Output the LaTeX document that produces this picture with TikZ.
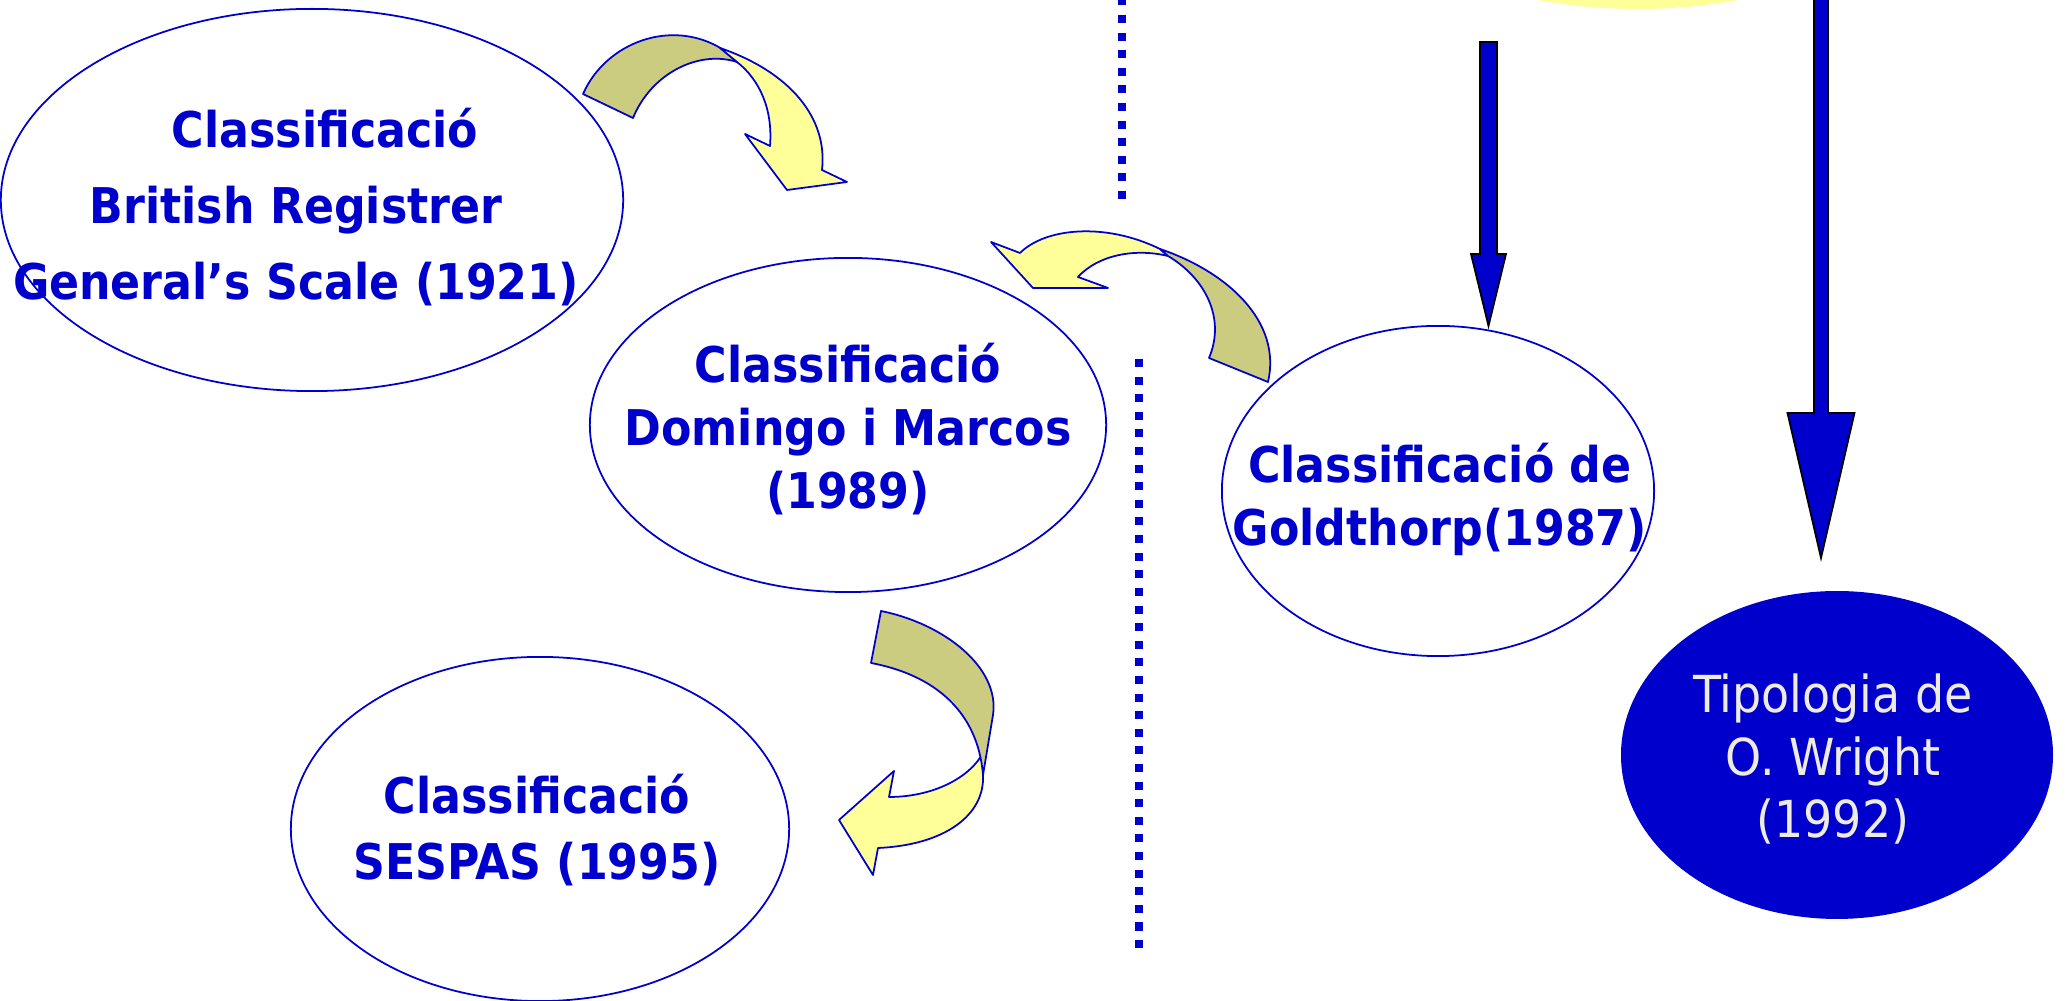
\documentclass[tikz,border=0pt]{standalone}
\usepackage{fontspec}
\usepackage{tikz}
\usetikzlibrary{calc,shapes.geometric}
\newfontfamily\labfont{DejaVu Sans Condensed}
\definecolor{figB}{RGB}{0,0,204}
\definecolor{figY}{RGB}{255,255,153}
\definecolor{figO}{RGB}{204,204,128}
\definecolor{figW}{RGB}{238,236,226}
% block arrow pointing down: top, tip, head length, shaft half width, head half width
\newcommand\blockdown[5]{\filldraw[blockarrow] ($(#1)+(-#4,0)$) -- ($(#1)+(#4,0)$) -- ($(#2)+(#4,-#3)$) -- ($(#2)+(#5,-#3)$) -- (#2) -- ($(#2)+(-#5,-#3)$) -- ($(#2)+(-#4,-#3)$) -- cycle;}

\begin{document}
\begin{tikzpicture}[x=0.01cm,y=-0.01cm,
  bubble/.style={ellipse,draw=figB,line width=0.5pt,fill=white,inner sep=0pt},
  lab/.style={align=center,text=figB,inner sep=0pt,font=\labfont\bfseries\fontsize{14}{17.9}\selectfont},
  ribbon/.style={draw=figB,line width=0.5pt,line join=round},
  blockarrow/.style={fill=figB,draw=black,line width=0.5pt},
  dotline/.style={figB,line width=0.08cm,dash pattern=on 0.08cm off 0.096cm}]
\useasboundingbox (0,0) rectangle (2065,1001);
\clip (0,0) rectangle (2065,1001);
\fill[figY] (1638,-81) ellipse (230 and 90);
% separators
\draw[dotline] (1122,-2.6) -- (1122,208);
\draw[dotline] (1139,359) -- (1139,957);
% classifications
\node[bubble,minimum width=6.22cm,minimum height=3.82cm] (brit) at (312,200) {};
\node[bubble,minimum width=5.16cm,minimum height=3.34cm] (doming) at (848,425) {};
\node[bubble,minimum width=4.98cm,minimum height=3.44cm] (sespas) at (540,829) {};
\node[bubble,minimum width=4.32cm,minimum height=3.30cm] (gold) at (1438,491) {};
\node[bubble,fill=figB,minimum width=4.30cm,minimum height=3.26cm] (wright) at (1837,755) {};
\node[lab,font=\labfont\bfseries\fontsize{14}{21.6}\selectfont] (britT) at ($(brit)+(-16,7)$) {\hspace*{0.58cm}Classificació\\British Registrer\\General’s Scale (1921)};
\node[lab] (domingT) at ($(doming)+(0,4)$) {Classificació\\Domingo i Marcos\\(1989)};
\node[lab] (goldT) at ($(gold)+(2,8)$) {Classificació de\\Goldthorp(1987)};
\node[lab,font=\labfont\bfseries\fontsize{14}{19}\selectfont] (sespasT) at ($(sespas)+(-3,1)$) {Classificació\\SESPAS (1995)};
\node[lab,text=figW,font=\labfont\fontsize{14.5}{17.9}\selectfont] (wrightT) at ($(wright)+(-4,4)$) {Tipologia de\\O. Wright\\(1992)};
% curved arrows
\filldraw[ribbon,fill=figO] (583,94) .. controls (606,42) and (672,18) .. (722,49) -- (737,62) .. controls (700,50) and (652,72) .. (633,118) -- cycle;
\filldraw[ribbon,fill=figY] (720,48) .. controls (790,72) and (828,118) .. (822,170) -- (847,182) -- (787,190) -- (745,134) -- (770,146) .. controls (773,110) and (760,80) .. (737,62) -- cycle;
\filldraw[ribbon,fill=figY] (1160,249) .. controls (1105,222) and (1045,228) .. (1020,253) -- (991,242) -- (1033,288) -- (1108,288) -- (1078,277) .. controls (1098,255) and (1135,248) .. (1168,256) -- cycle;
\filldraw[ribbon,fill=figO] (1160,249) .. controls (1228,272) and (1282,322) .. (1268,382) -- (1209,358) .. controls (1226,318) and (1205,278) .. (1168,256) -- cycle;
\filldraw[ribbon,fill=figY] (983,753) .. controls (968,780) and (930,797) .. (889,797) -- (894,771) -- (839,820) -- (873,875) -- (878,848) .. controls (945,845) and (985,815) .. (983,775) -- cycle;
\filldraw[ribbon,fill=figO] (881,611) .. controls (945,624) and (1000,668) .. (993,715) -- (983,775) .. controls (978,712) and (935,675) .. (871,663) -- cycle;
% straight arrows
\coordinate (smallTop) at (1488.5,42);
\coordinate (smallTip) at (1488.5,326);
\coordinate (bigTop) at (1821,-5);
\coordinate (bigTip) at (1821,558);
\blockdown{smallTop}{smallTip}{72}{8.5}{17.5}
\blockdown{bigTop}{bigTip}{145}{7}{33.5}
\end{tikzpicture}
\end{document}
